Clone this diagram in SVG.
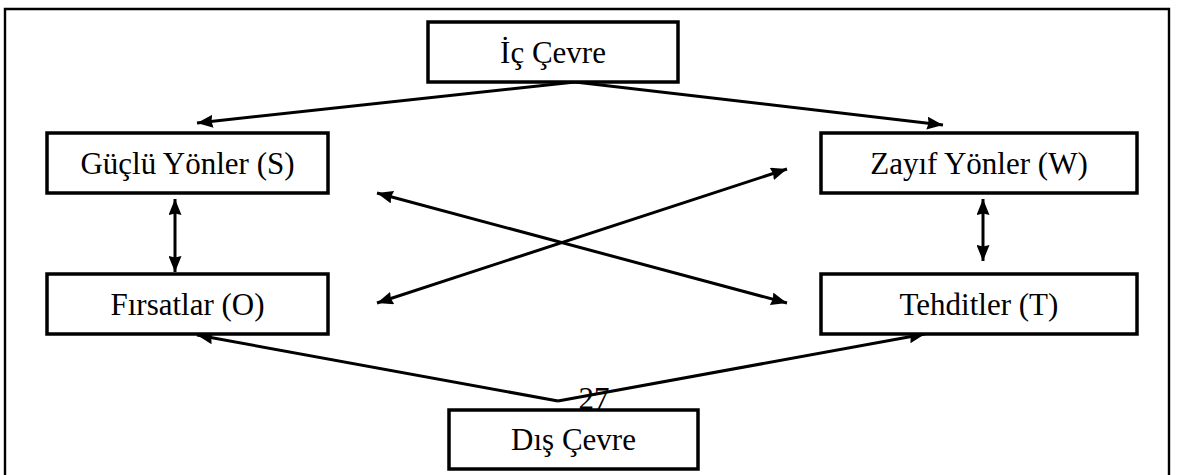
<svg xmlns="http://www.w3.org/2000/svg" width="1179" height="475" viewBox="0 0 1179 475">
  <style>
    .box { fill: #ffffff; stroke: #000000; stroke-width: 3.5; }
    .label { font-family: "Liberation Serif", "Times New Roman", serif; font-size: 31px; fill: #000000; text-anchor: middle; }
    .link { fill: none; stroke: #000000; stroke-width: 3; }
    .frame { fill: none; stroke: #000000; stroke-width: 2.4; }
  </style>
  <defs>
    <marker id="arrow" viewBox="0 0 16 13" refX="16" refY="6.5" markerWidth="16" markerHeight="13" markerUnits="userSpaceOnUse" orient="auto-start-reverse">
      <path d="M0,0 L16,6.5 L0,13 L1.5,6.5 Z" fill="#000000"/>
    </marker>
  </defs>

  <rect width="1179" height="475" fill="#ffffff"/>

  <!-- page frame, open at the bottom -->
  <path class="frame" d="M5,478 V9 H1169 V478"/>

  <!-- page number -->
  <text class="label" x="594" y="409">27</text>

  <g id="connectors">
    <!-- internal environment to strengths / weaknesses -->
    <path class="link" d="M575,82 L197,123" marker-end="url(#arrow)"/>
    <path class="link" d="M575,82 L943,125" marker-end="url(#arrow)"/>
    <!-- vertical two-way links -->
    <path class="link" d="M175,199 L175,272" marker-start="url(#arrow)" marker-end="url(#arrow)"/>
    <path class="link" d="M983,199 L983,261" marker-start="url(#arrow)" marker-end="url(#arrow)"/>
    <!-- crossing two-way links -->
    <path class="link" d="M377,193 L787,303" marker-start="url(#arrow)" marker-end="url(#arrow)"/>
    <path class="link" d="M377,303 L787,169" marker-start="url(#arrow)" marker-end="url(#arrow)"/>
    <!-- external environment to opportunities / threats -->
    <path class="link" d="M558,401 L197,335" marker-end="url(#arrow)"/>
    <path class="link" d="M558,401 L925,334" marker-end="url(#arrow)"/>
  </g>

  <g id="ic-cevre">
    <rect class="box" x="428" y="22" width="250" height="60"/>
    <text class="label" x="553" y="63">İç Çevre</text>
  </g>

  <g id="guclu-yonler">
    <rect class="box" x="47" y="133" width="281" height="60"/>
    <text class="label" x="187.5" y="174">Güçlü Yönler (S)</text>
  </g>

  <g id="zayif-yonler">
    <rect class="box" x="821" y="133" width="316" height="60"/>
    <text class="label" x="979" y="174">Zayıf Yönler (W)</text>
  </g>

  <g id="firsatlar">
    <rect class="box" x="47" y="274" width="281" height="60"/>
    <text class="label" x="187.5" y="315">Fırsatlar (O)</text>
  </g>

  <g id="tehditler">
    <rect class="box" x="821" y="274" width="316" height="60"/>
    <text class="label" x="979" y="315">Tehditler (T)</text>
  </g>

  <g id="dis-cevre">
    <rect class="box" x="449" y="410" width="249" height="59"/>
    <text class="label" x="573.5" y="450">Dış Çevre</text>
  </g>
</svg>
